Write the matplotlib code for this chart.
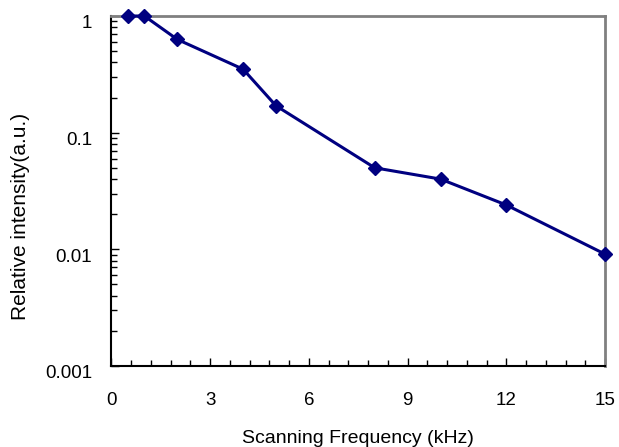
import numpy as np
import matplotlib.pyplot as plt
import matplotlib.transforms as mtransforms
from matplotlib.ticker import FixedLocator, LogLocator, NullFormatter

# Data
freq = [0.5, 1, 2, 4, 5, 8, 10, 12, 15]
intensity = [1.0, 1.0, 0.63, 0.35, 0.17, 0.05, 0.04, 0.024, 0.0091]
xticks = [0, 3, 6, 9, 12, 15]
yticks = [0.001, 0.01, 0.1, 1]
ylabels = ['0.001', '0.01', '0.1', '1']

plt.rcParams['font.family'] = ['Liberation Sans', 'DejaVu Sans']

fig = plt.figure(figsize=(6.19, 4.47), dpi=100)
ax = fig.add_axes([111.5/619, 1 - 366/447, (605 - 111.5)/619, (366 - 16)/447])

ax.plot(freq, intensity, color='#000080', lw=2.2, marker='D', ms=7.5, clip_on=False, zorder=3)

ax.set_yscale('log')
ax.set_xlim(0, 15)
ax.set_ylim(0.001, 1)
ax.set_xticks(xticks)
ax.xaxis.set_minor_locator(FixedLocator(np.arange(0, 15.01, 0.6)))
ax.set_yticks(yticks)
ax.set_yticklabels(ylabels)
ax.yaxis.set_minor_locator(LogLocator(base=10, subs=np.arange(2, 10)))
ax.yaxis.set_minor_formatter(NullFormatter())

ax.tick_params(axis='both', which='major', direction='in', length=6, width=1, labelsize=13.5)
ax.tick_params(axis='both', which='minor', direction='in', length=4, width=1)
ax.tick_params(axis='x', which='major', pad=19)
ax.tick_params(axis='y', which='major', pad=14)

# y tick labels sit a little below their ticks in the original
shift = mtransforms.ScaledTranslation(0, -6/100, fig.dpi_scale_trans)
for lab in ax.get_yticklabels():
    lab.set_transform(lab.get_transform() + shift)

for s in ['left', 'bottom']:
    ax.spines[s].set_color('black')
    ax.spines[s].set_linewidth(1.5)
for s in ['right', 'top']:
    ax.spines[s].set_color('#808080')
    ax.spines[s].set_linewidth(2)

ax.set_xlabel('Scanning Frequency (kHz)', fontsize=14, labelpad=15)
ax.set_ylabel('Relative intensity(a.u.)', fontsize=15)
ax.yaxis.set_label_coords(-(111.5 - 30)/(605 - 111.5), (366 - 216)/350)

fig.savefig('out.png', dpi=100)
